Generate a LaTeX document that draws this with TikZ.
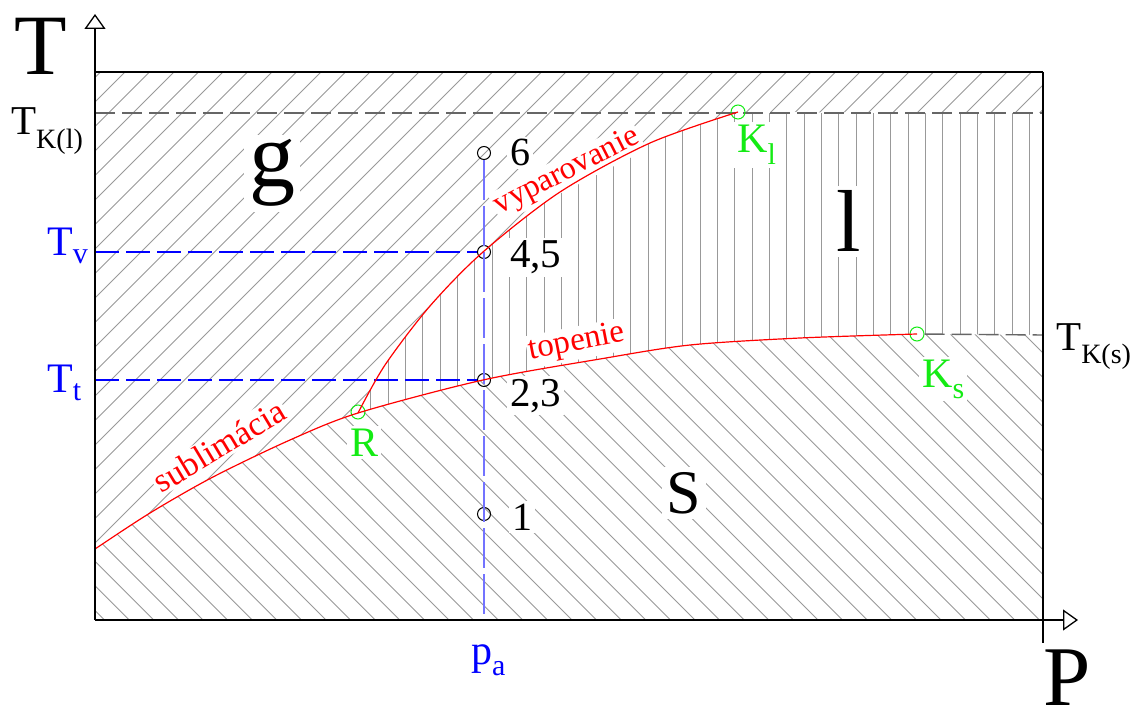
\documentclass[tikz,border=0pt]{standalone}
\usepackage{fontspec}
\setmainfont{Liberation Serif}
\usetikzlibrary{arrows.meta}
\newcommand\myfs[1]{\fontsize{#1}{#1}\selectfont}
\definecolor{hatchc}{gray}{0.6}
\definecolor{kgreen}{RGB}{20,235,20}
\definecolor{dgray}{gray}{0.4}
\begin{document}
\begin{tikzpicture}[x=1pt,y=-1pt,
  hatchline/.style={draw=hatchc, line width=0.9pt},
  lab/.style={fill=white, inner sep=3pt, anchor=base west},
  clab/.style={fill=white, inner sep=3pt, anchor=base},
  ptc/.style={circle, draw=black, line width=1pt, minimum size=13pt, inner sep=0pt},
  gpt/.style={circle, draw=kgreen, line width=1pt, minimum size=14pt, inner sep=0pt},
  curve/.style={draw=red, line width=1.2pt},
  gdash/.style={draw=dgray, line width=1.4pt, dash pattern=on 20pt off 7pt},
  bdash/.style={draw=blue, line width=1.1pt, dash pattern=on 24pt off 7pt},
  vdash/.style={draw=blue!55, line width=1.8pt, dash pattern=on 40pt off 6pt},
  axis/.style={draw=black, line width=1.3pt},
  tip/.style={-{Triangle[open,length=15pt,width=21pt]}}]
\useasboundingbox (0,0) rectangle (1137,711);

% gas hatching
\begin{scope}
\clip (95,72) rectangle (1043,620);
\foreach \i in {0,...,62} {
  \pgfmathsetmacro\c{172.5+24.5*\i}
  \draw[hatchline] ({\c-620},620) -- ({\c-72},72);
}
\end{scope}

% liquid hatching
\begin{scope}
\clip plot[smooth] coordinates {(358,413) (385,365) (430,306) (483,252) (560,192) (650,143) (738,112)} -- (1043,113) -- (1043,620) -- (358,620) -- cycle;
\fill[white] (95,72) rectangle (1043,620);
\foreach \i in {-16,...,25} {
  \draw[hatchline] ({613.33+17.333*\i},113) -- ++(0,510);
}
\end{scope}

% solid hatching
\begin{scope}
\clip plot[smooth] coordinates {(95,549) (150,513) (213,477) (290,440) (358,413) (483,380) (600,359) (690,345) (800,338) (917,334)} -- (1043,335) -- (1043,620) -- (95,620) -- cycle;
\fill[white] (95,72) rectangle (1043,620);
\foreach \i in {0,...,62} {
  \pgfmathsetmacro\c{-540+24.6*\i}
  \draw[hatchline] ({\c+72},72) -- ({\c+620},620);
}
\end{scope}

% region labels
\node[clab, inner sep=5pt] (g) at (272,187) {\myfs{92}g};
\node[clab, inner sep=5pt] (l) at (849,252) {\myfs{88}l};
\node[clab, inner sep=5pt] (S) at (684,513) {\myfs{62}S};

% point labels
\node[lab] (l6) at (507,166) {\myfs{40}6};
\node[lab] (l45) at (507,268) {\myfs{41}4,5};
\node[lab] (l23) at (507,406) {\myfs{41}2,3};
\node[lab] (l1) at (509,530) {\myfs{40}1};

% curve labels
\node[fill=white, inner sep=2pt, rotate=27, text=red] (vyp) at (567,172) {\myfs{32}vyparovanie};
\node[fill=white, inner sep=2pt, rotate=31, text=red] (sub) at (219,446) {\myfs{34}sublimácia};
\node[fill=white, inner sep=2pt, rotate=11, text=red] (top) at (577,343) {\myfs{33}topenie};

% critical point labels
\node[lab, text=kgreen] (lKl) at (734,153) {\myfs{42}K\raisebox{-12pt}{\myfs{30}l}};
\node[lab, text=kgreen] (lKs) at (919,387) {\myfs{42}K\raisebox{-11pt}{\myfs{30}s}};
\node[lab, text=kgreen] (lR) at (347,456) {\myfs{42}R};

% dashed level lines
\coordinate (tk1a) at (95,113);
\coordinate (tk1b) at (1043,113);
\draw[gdash] (tk1a) -- (tk1b);

% points
\node[ptc] (p6) at (484,153) {};
\node[ptc] (p45) at (484,252) {};
\node[ptc] (p23) at (484,380) {};
\node[ptc] (p1) at (484,514) {};
\node[gpt] (Kl) at (738,112) {};
\node[gpt] (Ks) at (917,334) {};
\node[gpt] (R) at (358,412) {};

\coordinate (tks) at (1043,335);
\draw[gdash] (Ks) -- (tks);

\coordinate (tv) at (95,252);
\coordinate (tt) at (95,380);
\coordinate (pa) at (484,620);
\draw[bdash] (tv) -- (p45);
\draw[bdash] (tt) -- (p23);
\draw[vdash] (p6) -- (pa);

% curves
\draw[curve] plot[smooth] coordinates {(95,549) (150,513) (213,477) (290,440) (358,413) (483,380) (600,359) (690,345) (800,338) (917,334)};
\draw[curve] plot[smooth] coordinates {(358,413) (385,365) (430,306) (483,252) (560,192) (650,143) (738,112)};

% box and axes
\coordinate (O) at (95,620);
\coordinate (Ttip) at (95,14);
\coordinate (Ptip) at (1078,620);
\coordinate (bl) at (95,72);
\coordinate (br) at (1043,72);
\coordinate (brb) at (1043,643);
\draw[axis] (bl) -- (br);
\draw[axis] (br) -- (brb);
\draw[axis, tip] (O) -- (Ttip);
\draw[axis, tip] (O) -- (Ptip);

% axis labels
\node[anchor=base west, inner sep=0pt] (T) at (14,75) {\myfs{86}T};
\node[anchor=base west, inner sep=0pt] (P) at (1043,705) {\myfs{85}P};
\node[anchor=base west, inner sep=0pt] (TK1) at (11,135) {\myfs{41}T\raisebox{-14pt}{\myfs{28}K(l)}};
\node[anchor=base west, inner sep=0pt] (TKs) at (1056,350) {\myfs{41}T\raisebox{-13pt}{\myfs{28}K(s)}};
\node[anchor=base west, inner sep=0pt, text=blue] (Tv) at (47,255) {\myfs{42}T\raisebox{-8pt}{\myfs{30}v}};
\node[anchor=base west, inner sep=0pt, text=blue] (Tt) at (47,392) {\myfs{42}T\raisebox{-8pt}{\myfs{30}t}};
\node[anchor=base west, inner sep=0pt, text=blue] (pA) at (471,664) {\myfs{42}p\raisebox{-11pt}{\myfs{30}a}};
\end{tikzpicture}
\end{document}
